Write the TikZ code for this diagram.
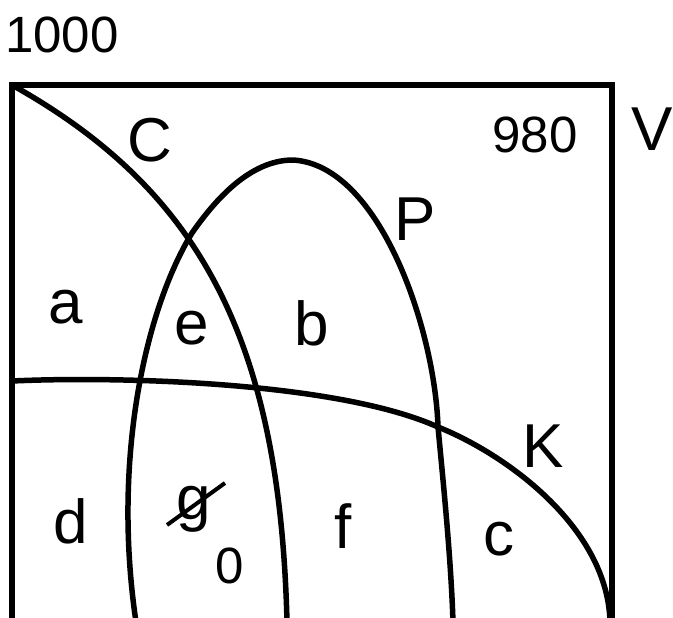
\documentclass[tikz,border=0pt]{standalone}
\usepackage{fontspec}
\setmainfont{Liberation Sans}
\tikzset{
  setline/.style={line width=5.5pt, line join=round, line cap=round},
  big/.style={font=\fontsize{62}{62}\selectfont, inner sep=0pt, anchor=base},
  num/.style={font=\fontsize{51}{51}\selectfont, inner sep=0pt, anchor=base},
}
\begin{document}
\begin{tikzpicture}[x=1pt,y=-1pt]
\useasboundingbox (0,0) rectangle (673,618);
% universe square
\draw[setline, line cap=butt, line join=miter] (12,622) -- (12,85) -- (612,85) -- (612,622);
% C
\draw[setline] (12,85) .. controls (200,190) and (280,340) .. (287,622);
% P
\draw[setline] (136,622) .. controls (112,460) and (145,310) .. (192,233)
  .. controls (215,200) and (250,160) .. (293,160)
  .. controls (380,165) and (435,330) .. (438,427)
  .. controls (444,490) and (451,560) .. (453,622);
% K
\draw[setline] (12,381) .. controls (120,376) and (338,382) .. (438,427)
  .. controls (510,456) and (608,530) .. (610,622);
% labels
\node[num] (n1000) at (62,53) {1000};
\node[num] (n980) at (535,153) {980};
\node[big] (lV) at (652,150) {V};
\node[big] (lC) at (150,161) {C};
\node[big] (lP) at (415,240) {P};
\node[big] (la) at (66,323) {a};
\node[big] (le) at (192,344) {e};
\node[big] (lb) at (312,345) {b};
\node[big] (lK) at (543,467) {K};
\node[big] (ld) at (71,543) {d};
\node[big] (lg) at (194,519) {g};
\node[num] (n0) at (230,583) {0};
\node[big] (lf) at (343,548) {f};
\node[big] (lc) at (499,555) {c};
\coordinate (s1) at (167,525);
\coordinate (s2) at (225,483);
\draw[line width=4pt] (s1) -- (s2);
\end{tikzpicture}
\end{document}
